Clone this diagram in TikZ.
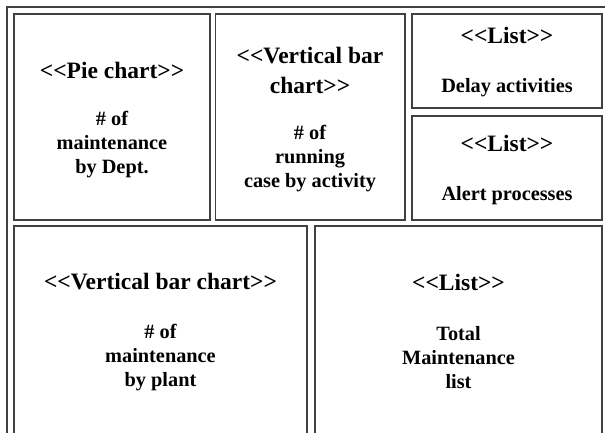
\documentclass[tikz,border=0pt]{standalone}
\usepackage{fontspec}
\setmainfont{Liberation Serif}
\begin{document}
\begin{tikzpicture}[x=1pt,y=-1pt,
  frame/.style={draw=black!75, line width=1.4pt},
  panel/.style={draw=black!75, line width=1.4pt, anchor=north west, inner sep=0pt, outer sep=0pt},
  head/.style={align=center, inner sep=0pt, font=\bfseries\fontsize{23.5}{30}\selectfont},
  body/.style={align=center, inner sep=0pt, font=\bfseries\fontsize{20.3}{24}\selectfont}]
\useasboundingbox (0,0) rectangle (605,432);
\clip (0,0) rectangle (605,432);
\fill[white] (0,0) rectangle (605,432);
% outer frame
\draw[frame] (7,445) -- (7,7) -- (615,7);
% panels
\node[panel, minimum width=196pt, minimum height=206pt] (pie) at (14,14) {};
\node[panel, minimum width=189.5pt, minimum height=206pt] (vbar) at (215.5,14) {};
\node[panel, minimum width=190pt, minimum height=94pt] (delay) at (412,14) {};
\node[panel, minimum width=190pt, minimum height=104pt] (alert) at (412,116) {};
\node[panel, minimum width=293pt, minimum height=230pt] (plant) at (14,226) {};
\node[panel, minimum width=287pt, minimum height=230pt] (total) at (315,226) {};
% texts
\node[head] (pieh) at (112,70) {<{}<Pie chart>{}>};
\node[body] (pieb) at (112,145) {\# of\\maintenance\\by Dept.};
\node[head] (vbarh) at (310,70) {<{}<Vertical bar\\chart>{}>};
\node[body] (vbarb) at (310,159) {\# of\\running\\case by activity};
\node[head] (delayh) at (507,35) {<{}<List>{}>};
\node[body] (delayb) at (507,88) {Delay activities};
\node[head] (alerth) at (507,143) {<{}<List>{}>};
\node[body] (alertb) at (507,196) {Alert processes};
\node[head] (planth) at (160.5,282) {<{}<Vertical bar chart>{}>};
\node[body] (plantb) at (160.5,358) {\# of\\maintenance\\by plant};
\node[head] (totalh) at (458.5,282) {<{}<List>{}>};
\node[body] (totalb) at (458.5,358) {Total\\Maintenance\\list};
\end{tikzpicture}
\end{document}
